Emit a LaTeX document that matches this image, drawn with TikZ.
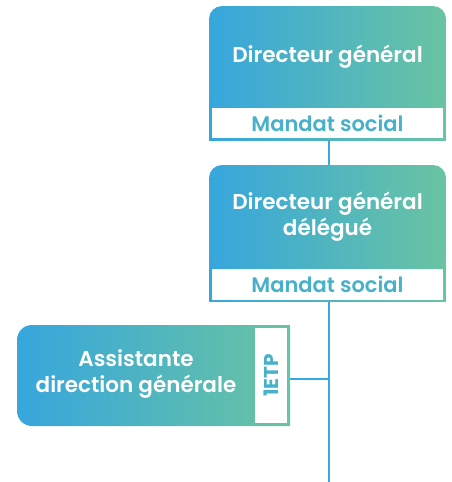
\documentclass[tikz,border=0pt]{standalone}
\usepackage{fontspec}
\setmainfont{Poppins}[UprightFont=* SemiBold, BoldFont=* Bold]
\definecolor{gblue}{HTML}{37A6DD}
\definecolor{ggreen}{HTML}{69C4A1}
\definecolor{linec}{HTML}{38A9E0}
\definecolor{txtc}{HTML}{48B1CA}
\tikzset{
  grad/.style={left color=gblue, right color=ggreen},
  gbox/.style={inner sep=0pt, minimum width=#1},
  title/.style={text=white, font=\fontsize{21.5}{26}\selectfont, align=center},
  subbox/.style={fill=white, inner sep=0pt, text=txtc, font=\fontsize{21}{24}\selectfont},
  spine/.style={draw=linec, line width=2.5pt}
}
\begin{document}
\begin{tikzpicture}[x=1pt,y=-1pt]
\useasboundingbox (0,0) rectangle (452,482);
% frame nodes
\node[gbox=237, minimum height=134] (g1) at (327.5,73) {};
\node[gbox=237, minimum height=136] (g2) at (327.5,233) {};
\node[gbox=273, minimum height=101] (g3) at (153.5,375.5) {};
\coordinate (spine) at (329,482);
% connectors
\draw[spine] (g1.south -| spine) -- (g2.north -| spine);
\draw[spine] (g2.south -| spine) -- (spine);
\coordinate (c3) at (290,379);
\draw[spine] (c3) -- (c3 -| spine);
% box 1
\begin{scope}
\clip[rounded corners=13pt] (209,6) rectangle (446,200);
\shade[grad] (209,6) rectangle (446,140);
\end{scope}
\node[title] (t1) at (327.5,57) {Directeur général};
\node[subbox, minimum width=231, minimum height=30] (m1) at (327.5,123) {Mandat social};
% box 2
\begin{scope}
\clip[rounded corners=13pt] (209,165) rectangle (446,360);
\shade[grad] (209,165) rectangle (446,301);
\end{scope}
\node[title] (t2) at (327.5,217) {Directeur général\\délégué};
\node[subbox, minimum width=231, minimum height=31] (m2) at (327.5,284) {Mandat social};
% box 3
\begin{scope}
\clip[rounded corners=15pt] (17,325) rectangle (330,426);
\shade[grad] (17,325) rectangle (290,426);
\end{scope}
\node[title] (t3) at (136,374) {Assistante\\direction générale};
\node[subbox, minimum width=95, minimum height=32, rotate=90, font=\fontsize{20}{22}\selectfont\bfseries] (etp) at (271,375.5) {1ETP};
\end{tikzpicture}
\end{document}
